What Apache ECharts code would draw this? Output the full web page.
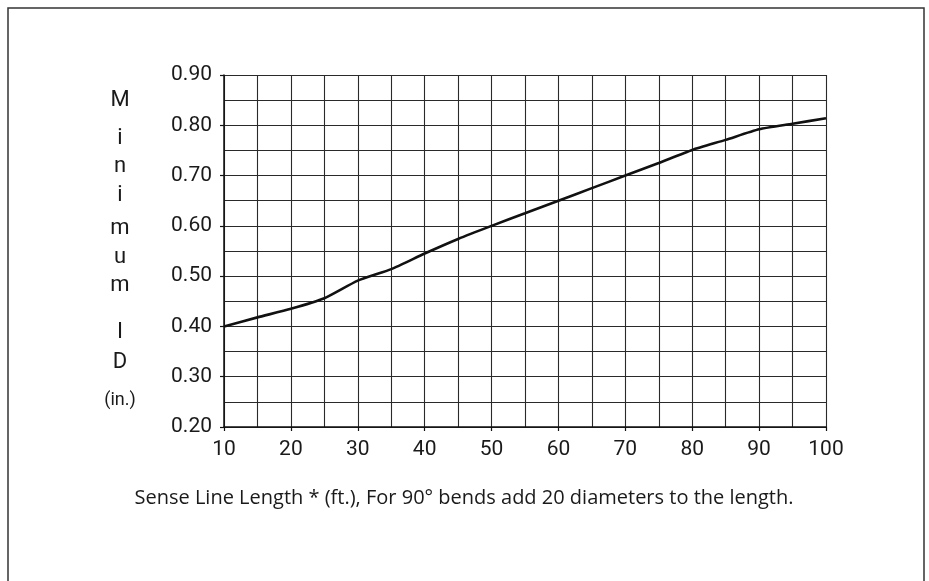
<!DOCTYPE html>
<html>
<head>
<meta charset="utf-8">
<script src="https://cdn.jsdelivr.net/npm/echarts@6/dist/echarts.min.js"></script>
<style>
html,body{margin:0;padding:0;background:#fff;}
#chart{width:929px;height:581px;}
</style>
</head>
<body>
<div id="chart"></div>
<script>
// Data
const lengthsFt = [10, 15, 20, 25, 30, 35, 40, 45, 50, 55, 60, 65, 70, 75, 80, 85, 90, 95, 100];
const minimumID = [0.400, 0.418, 0.435, 0.456, 0.491, 0.514, 0.545, 0.574, 0.600, 0.625, 0.650, 0.675, 0.700, 0.725, 0.751, 0.771, 0.792, 0.803, 0.814];
const yTitleLetters = ['M', 'i', 'n', 'i', 'm', 'u', 'm', '', 'I', 'D', '(in.)'];
const captionText = 'Sense Line Length * (ft.), For 90\u00B0 bends add 20 diameters to the length.';

const chart = echarts.init(document.getElementById('chart'), null, {renderer: 'canvas'});
const gridColor = '#2a2a2a';
const tickFont = 'Roboto, "DejaVu Sans", sans-serif';

const titleY = [100, 138, 166, 195, 228, 257, 285, 0, 332, 362, 400];
const titleGraphics = [];
yTitleLetters.forEach((ch, i) => {
  if (!ch) return;
  titleGraphics.push({
    type: 'text', left: null, x: 120, y: titleY[i],
    style: {
      text: ch, x: 0, y: 0, align: 'center', verticalAlign: 'middle',
      font: (ch === '(in.)' ? '18px ' : '22px ') + tickFont, fill: '#1a1a1a'
    }
  });
});

const option = {
  animation: false,
  backgroundColor: '#fff',
  grid: {left: 224, right: 103, top: 75, bottom: 154, containLabel: false},
  xAxis: {
    type: 'value', min: 10, max: 100, interval: 10,
    axisLine: {show: true, onZero: false, lineStyle: {color: '#111', width: 1.5}},
    axisTick: {show: true, length: 4, inside: false, lineStyle: {color: '#111', width: 1.2}},
    axisLabel: {color: '#1a1a1a', fontSize: 21, fontFamily: tickFont, margin: 12},
    splitLine: {show: true, lineStyle: {color: gridColor, width: 1.1}},
    minorTick: {show: false, splitNumber: 2},
    minorSplitLine: {show: true, lineStyle: {color: gridColor, width: 1.1}}
  },
  yAxis: {
    type: 'value', min: 0.2, max: 0.9, interval: 0.1,
    axisLine: {show: true, onZero: false, lineStyle: {color: '#111', width: 1.5}},
    axisTick: {show: true, length: 4, inside: false, lineStyle: {color: '#111', width: 1.2}},
    axisLabel: {
      color: '#1a1a1a', fontSize: 21, fontFamily: tickFont, margin: 12,
      formatter: v => v.toFixed(2)
    },
    splitLine: {show: true, lineStyle: {color: gridColor, width: 1.1}},
    minorTick: {show: false, splitNumber: 2},
    minorSplitLine: {show: true, lineStyle: {color: gridColor, width: 1.1}}
  },
  series: [{
    type: 'line',
    data: lengthsFt.map((x, i) => [x, minimumID[i]]),
    showSymbol: false,
    smooth: 0.2,
    lineStyle: {color: '#111', width: 2.6},
    z: 5
  }],
  graphic: [
    {
      type: 'rect', shape: {x: 8, y: 8, width: 916, height: 600},
      style: {fill: 'none', stroke: '#333', lineWidth: 1.5}, silent: true
    },
    ...titleGraphics,
    {
      type: 'text', x: 464, y: 498,
      style: {
        text: captionText, x: 0, y: 0, align: 'center', verticalAlign: 'middle',
        font: '20px "Liberation Sans Narrow", "Open Sans", sans-serif', fill: '#1a1a1a'
      }
    }
  ]
};
chart.setOption(option);
</script>
</body>
</html>
